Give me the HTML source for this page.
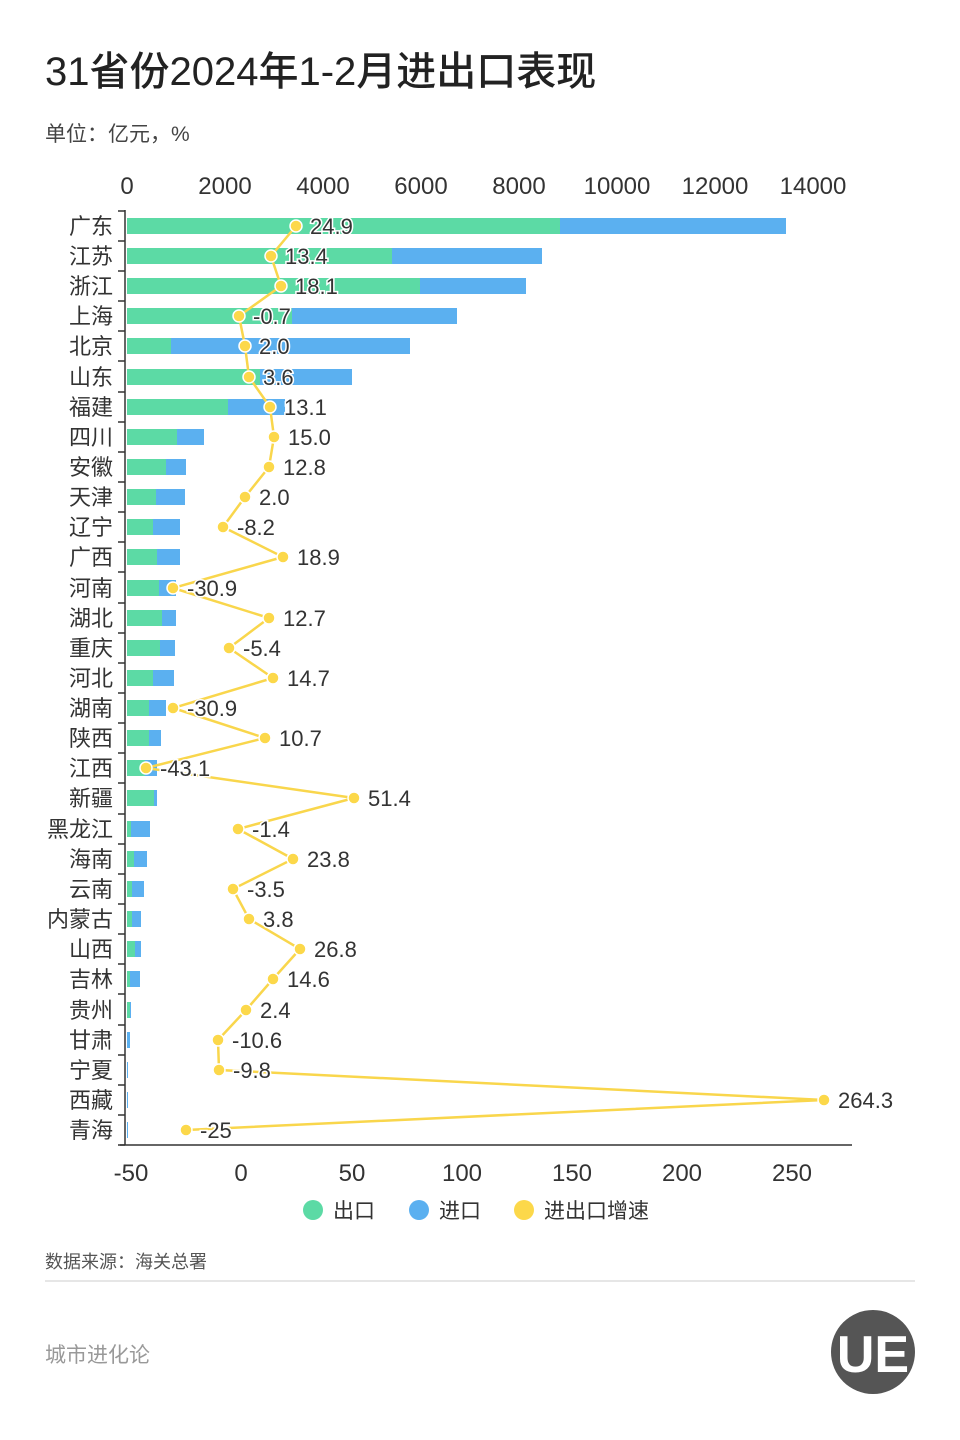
<!DOCTYPE html>
<html><head><meta charset="utf-8"><style>
html,body{margin:0;padding:0;background:#fff;}
svg{display:block;font-family:"Liberation Sans","Noto Sans CJK SC",sans-serif;}
</style></head><body>
<svg width="960" height="1440" viewBox="0 0 960 1440" xmlns="http://www.w3.org/2000/svg">
<rect width="960" height="1440" fill="#fff"/>
<text x="45" y="85" font-size="40" font-weight="500" fill="#222">31省份2024年1-2月进出口表现</text>
<text x="45" y="141" font-size="21" fill="#444">单位：亿元，%</text>
<g font-size="24" fill="#333" text-anchor="middle">
<text x="127" y="194">0</text><text x="225" y="194">2000</text><text x="323" y="194">4000</text><text x="421" y="194">6000</text><text x="519" y="194">8000</text><text x="617" y="194">10000</text><text x="715" y="194">12000</text><text x="813" y="194">14000</text>
<text x="131" y="1181">-50</text><text x="241" y="1181">0</text><text x="352" y="1181">50</text><text x="462" y="1181">100</text><text x="572" y="1181">150</text><text x="682" y="1181">200</text><text x="792" y="1181">250</text>
</g>
<line x1="120" y1="1145" x2="852" y2="1145" stroke="#333" stroke-width="1.5"/>
<line x1="125" y1="210" x2="125" y2="1145" stroke="#333" stroke-width="1.5"/>
<g stroke="#333" stroke-width="1.5">
<line x1="118" y1="211" x2="125" y2="211"/><line x1="118" y1="241" x2="125" y2="241"/><line x1="118" y1="271" x2="125" y2="271"/><line x1="118" y1="301" x2="125" y2="301"/><line x1="118" y1="331" x2="125" y2="331"/><line x1="118" y1="361" x2="125" y2="361"/><line x1="118" y1="392" x2="125" y2="392"/><line x1="118" y1="422" x2="125" y2="422"/><line x1="118" y1="452" x2="125" y2="452"/><line x1="118" y1="482" x2="125" y2="482"/><line x1="118" y1="512" x2="125" y2="512"/><line x1="118" y1="542" x2="125" y2="542"/><line x1="118" y1="572" x2="125" y2="572"/><line x1="118" y1="603" x2="125" y2="603"/><line x1="118" y1="633" x2="125" y2="633"/><line x1="118" y1="663" x2="125" y2="663"/><line x1="118" y1="693" x2="125" y2="693"/><line x1="118" y1="723" x2="125" y2="723"/><line x1="118" y1="753" x2="125" y2="753"/><line x1="118" y1="783" x2="125" y2="783"/><line x1="118" y1="814" x2="125" y2="814"/><line x1="118" y1="844" x2="125" y2="844"/><line x1="118" y1="874" x2="125" y2="874"/><line x1="118" y1="904" x2="125" y2="904"/><line x1="118" y1="934" x2="125" y2="934"/><line x1="118" y1="964" x2="125" y2="964"/><line x1="118" y1="994" x2="125" y2="994"/><line x1="118" y1="1025" x2="125" y2="1025"/><line x1="118" y1="1055" x2="125" y2="1055"/><line x1="118" y1="1085" x2="125" y2="1085"/><line x1="118" y1="1115" x2="125" y2="1115"/><line x1="118" y1="1145" x2="125" y2="1145"/>
</g>
<g font-size="22" fill="#333" text-anchor="end">
<text x="113" y="234">广东</text><text x="113" y="264">江苏</text><text x="113" y="294">浙江</text><text x="113" y="324">上海</text><text x="113" y="354">北京</text><text x="113" y="385">山东</text><text x="113" y="415">福建</text><text x="113" y="445">四川</text><text x="113" y="475">安徽</text><text x="113" y="505">天津</text><text x="113" y="535">辽宁</text><text x="113" y="565">广西</text><text x="113" y="596">河南</text><text x="113" y="626">湖北</text><text x="113" y="656">重庆</text><text x="113" y="686">河北</text><text x="113" y="716">湖南</text><text x="113" y="746">陕西</text><text x="113" y="776">江西</text><text x="113" y="806">新疆</text><text x="113" y="837">黑龙江</text><text x="113" y="867">海南</text><text x="113" y="897">云南</text><text x="113" y="927">内蒙古</text><text x="113" y="957">山西</text><text x="113" y="987">吉林</text><text x="113" y="1018">贵州</text><text x="113" y="1048">甘肃</text><text x="113" y="1078">宁夏</text><text x="113" y="1108">西藏</text><text x="113" y="1138">青海</text>
</g>
<g fill="#5bb0f0">
<rect x="127" y="218" width="659" height="16"/><rect x="127" y="248" width="415" height="16"/><rect x="127" y="278" width="399" height="16"/><rect x="127" y="308" width="330" height="16"/><rect x="127" y="338" width="283" height="16"/><rect x="127" y="369" width="225" height="16"/><rect x="127" y="399" width="158" height="16"/><rect x="127" y="429" width="77" height="16"/><rect x="127" y="459" width="59" height="16"/><rect x="127" y="489" width="58" height="16"/><rect x="127" y="519" width="53" height="16"/><rect x="127" y="549" width="53" height="16"/><rect x="127" y="580" width="49" height="16"/><rect x="127" y="610" width="49" height="16"/><rect x="127" y="640" width="48" height="16"/><rect x="127" y="670" width="47" height="16"/><rect x="127" y="700" width="39" height="16"/><rect x="127" y="730" width="34" height="16"/><rect x="127" y="760" width="30" height="16"/><rect x="127" y="790" width="30" height="16"/><rect x="127" y="821" width="23" height="16"/><rect x="127" y="851" width="20" height="16"/><rect x="127" y="881" width="17" height="16"/><rect x="127" y="911" width="14" height="16"/><rect x="127" y="941" width="14" height="16"/><rect x="127" y="971" width="13" height="16"/><rect x="127" y="1002" width="4" height="16"/><rect x="127" y="1032" width="3" height="16"/><rect x="127" y="1062" width="1" height="16"/><rect x="127" y="1092" width="1" height="16"/><rect x="127" y="1122" width="1" height="16"/>
</g>
<g fill="#5cdaa5">
<rect x="127" y="218" width="433" height="16"/><rect x="127" y="248" width="265" height="16"/><rect x="127" y="278" width="293" height="16"/><rect x="127" y="308" width="165" height="16"/><rect x="127" y="338" width="44" height="16"/><rect x="127" y="369" width="133" height="16"/><rect x="127" y="399" width="101" height="16"/><rect x="127" y="429" width="50" height="16"/><rect x="127" y="459" width="39" height="16"/><rect x="127" y="489" width="29" height="16"/><rect x="127" y="519" width="26" height="16"/><rect x="127" y="549" width="30" height="16"/><rect x="127" y="580" width="32" height="16"/><rect x="127" y="610" width="35" height="16"/><rect x="127" y="640" width="33" height="16"/><rect x="127" y="670" width="26" height="16"/><rect x="127" y="700" width="22" height="16"/><rect x="127" y="730" width="22" height="16"/><rect x="127" y="760" width="18" height="16"/><rect x="127" y="790" width="27" height="16"/><rect x="127" y="821" width="4" height="16"/><rect x="127" y="851" width="7" height="16"/><rect x="127" y="881" width="5" height="16"/><rect x="127" y="911" width="5" height="16"/><rect x="127" y="941" width="8" height="16"/><rect x="127" y="971" width="3" height="16"/><rect x="127" y="1002" width="3" height="16"/>
</g>
<polyline fill="none" stroke="#f9d64c" stroke-width="2.5" points="296,226 271,256 281,286 239,316 245,346 249,377 270,407 274,437 269,467 245,497 223,527 283,557 173,588 269,618 229,648 273,678 173,708 265,738 146,768 354,798 238,829 293,859 233,889 249,919 300,949 273,979 246,1010 218,1040 219,1070 824,1100 186,1130"/>
<g fill="#fcd84a" stroke="#fff" stroke-width="1.5">
<circle cx="296" cy="226" r="6"/><circle cx="271" cy="256" r="6"/><circle cx="281" cy="286" r="6"/><circle cx="239" cy="316" r="6"/><circle cx="245" cy="346" r="6"/><circle cx="249" cy="377" r="6"/><circle cx="270" cy="407" r="6"/><circle cx="274" cy="437" r="6"/><circle cx="269" cy="467" r="6"/><circle cx="245" cy="497" r="6"/><circle cx="223" cy="527" r="6"/><circle cx="283" cy="557" r="6"/><circle cx="173" cy="588" r="6"/><circle cx="269" cy="618" r="6"/><circle cx="229" cy="648" r="6"/><circle cx="273" cy="678" r="6"/><circle cx="173" cy="708" r="6"/><circle cx="265" cy="738" r="6"/><circle cx="146" cy="768" r="6"/><circle cx="354" cy="798" r="6"/><circle cx="238" cy="829" r="6"/><circle cx="293" cy="859" r="6"/><circle cx="233" cy="889" r="6"/><circle cx="249" cy="919" r="6"/><circle cx="300" cy="949" r="6"/><circle cx="273" cy="979" r="6"/><circle cx="246" cy="1010" r="6"/><circle cx="218" cy="1040" r="6"/><circle cx="219" cy="1070" r="6"/><circle cx="824" cy="1100" r="6"/><circle cx="186" cy="1130" r="6"/>
</g>
<g font-size="22" fill="#333" stroke="#fff" stroke-width="3" paint-order="stroke">
<text x="310" y="234">24.9</text><text x="285" y="264">13.4</text><text x="295" y="294">18.1</text><text x="253" y="324">-0.7</text><text x="259" y="354">2.0</text><text x="263" y="385">3.6</text><text x="284" y="415">13.1</text><text x="288" y="445">15.0</text><text x="283" y="475">12.8</text><text x="259" y="505">2.0</text><text x="237" y="535">-8.2</text><text x="297" y="565">18.9</text><text x="187" y="596">-30.9</text><text x="283" y="626">12.7</text><text x="243" y="656">-5.4</text><text x="287" y="686">14.7</text><text x="187" y="716">-30.9</text><text x="279" y="746">10.7</text><text x="160" y="776">-43.1</text><text x="368" y="806">51.4</text><text x="252" y="837">-1.4</text><text x="307" y="867">23.8</text><text x="247" y="897">-3.5</text><text x="263" y="927">3.8</text><text x="314" y="957">26.8</text><text x="287" y="987">14.6</text><text x="260" y="1018">2.4</text><text x="232" y="1048">-10.6</text><text x="233" y="1078">-9.8</text><text x="838" y="1108">264.3</text><text x="200" y="1138">-25</text>
</g>
<circle cx="313" cy="1210" r="10" fill="#5cdaa5"/><text x="333" y="1218" font-size="21" fill="#333">出口</text>
<circle cx="419" cy="1210" r="10" fill="#5bb0f0"/><text x="439" y="1218" font-size="21" fill="#333">进口</text>
<circle cx="524" cy="1210" r="10" fill="#fcd84a"/><text x="544" y="1218" font-size="21" fill="#333">进出口增速</text>
<text x="45" y="1268" font-size="18" fill="#555">数据来源：海关总署</text>
<line x1="45" y1="1281" x2="915" y2="1281" stroke="#ddd" stroke-width="1.5"/>
<text x="45" y="1362" font-size="21" fill="#999">城市进化论</text>
<circle cx="873" cy="1352" r="42" fill="#555"/>
<text x="873" y="1372" font-size="52" font-weight="bold" fill="#fff" text-anchor="middle">UE</text>
</svg>
</body></html>
